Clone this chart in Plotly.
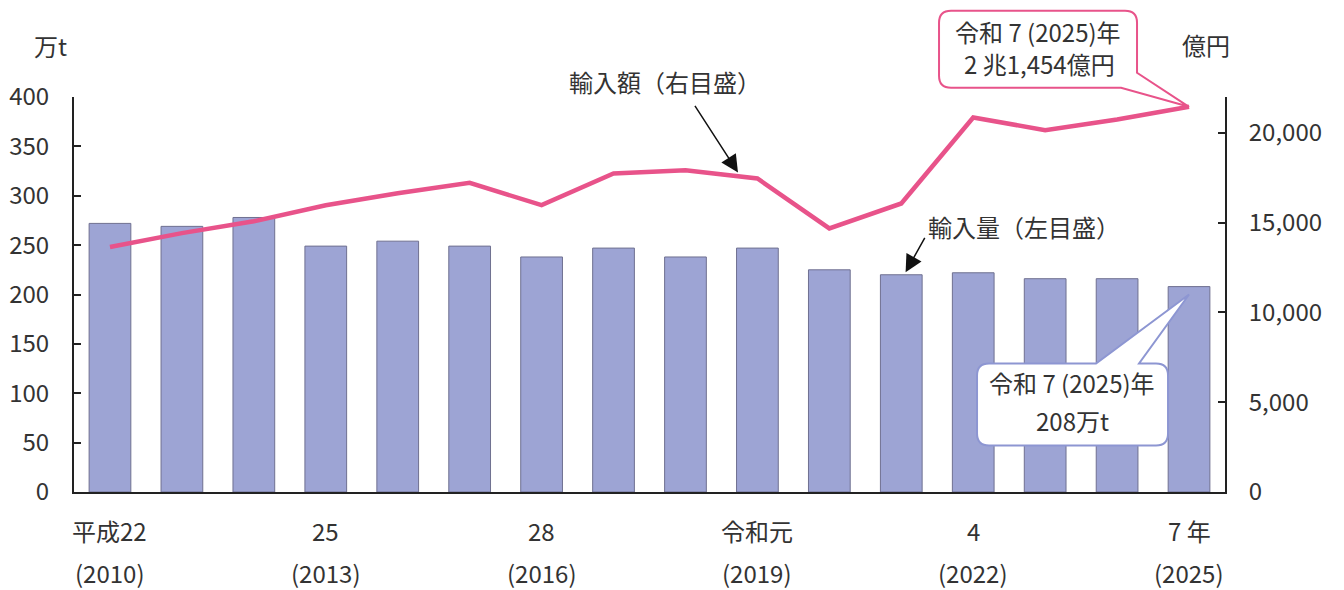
import plotly.graph_objects as go

# ---- data ----
years = list(range(2010, 2026))
import_volume = [272, 269, 278, 249, 254, 249, 238, 247, 238, 247, 225, 220, 222, 216, 216, 208]  # 万t
import_value = [13650, 14420, 15080, 15970, 16640, 17220, 15975, 17740, 17920, 17460,
                14680, 16070, 20860, 20150, 20750, 21454]  # 億円
tick_years = [2010, 2013, 2016, 2019, 2022, 2025]
tick_era = ["平成22", "25", "28", "令和元", "4", "7 年"]
tick_west = ["(2010)", "(2013)", "(2016)", "(2019)", "(2022)", "(2025)"]

FONT = "Noto Sans CJK JP"
TXT = "#333333"
BAR = "#9DA4D4"
PINK = "#E8538A"
BLUE_EDGE = "#8D96D2"

# the page body has an 8px margin, so the figure is 8px smaller than the window
OFF = 8
W, H = 1344 - OFF, 590 - OFF
PL, PR, PT, PB = 74, 1225, 97, 492          # plot area edges in window pixels
ML, MR, MT, MB = PL - OFF, 1344 - PR, PT - OFF, 590 - PB
PW, PH = PR - PL, PB - PT
Y2MAX = 22000

def paper(xp, yp):
    """window pixel position -> paper coords (relative to plot area)"""
    return (xp - PL) / PW, (PB - yp) / PH

fig = go.Figure()
fig.add_trace(go.Bar(x=years, y=import_volume, width=0.58,
                     marker=dict(color=BAR, line=dict(color="#6F7090", width=1)),
                     yaxis="y", showlegend=False))
fig.add_trace(go.Scatter(x=years, y=import_value, mode="lines",
                         line=dict(color=PINK, width=4.5), yaxis="y2", showlegend=False))

TF = dict(size=24, color=TXT, family=FONT)
fig.update_layout(
    width=W, height=H,
    margin=dict(l=ML, r=MR, t=MT, b=MB, autoexpand=False),
    paper_bgcolor="white", plot_bgcolor="white",
    font=dict(family=FONT, color=TXT, size=24),
    xaxis=dict(range=[2009.5, 2025.5], showticklabels=False, ticks="",
               showline=True, linecolor="#222", linewidth=2, showgrid=False, zeroline=False),
    yaxis=dict(range=[0, 400], dtick=50, ticks="inside", ticklen=7, tickcolor="#222",
               tickwidth=2, showline=True, linecolor="#222", linewidth=2,
               showgrid=False, zeroline=False, ticklabelstandoff=18, tickfont=TF),
    yaxis2=dict(range=[0, Y2MAX], tickvals=[0, 5000, 10000, 15000, 20000],
                ticktext=["0", "5,000", "10,000", "15,000", "20,000"],
                overlaying="y", side="right", ticks="inside", ticklen=7, tickcolor="#222",
                tickwidth=2, showline=True, linecolor="#222", linewidth=2,
                showgrid=False, zeroline=False, ticklabelstandoff=17, tickfont=TF),
)

F = dict(size=24, color=TXT, family=FONT)
ann = []
# x-axis two-line labels
y1p = paper(0, 530)[1]
y2p = paper(0, 572)[1]
for yr, e, w in zip(tick_years, tick_era, tick_west):
    ann.append(dict(x=yr, y=y1p, xref="x", yref="paper", text=e, showarrow=False,
                    xanchor="center", yanchor="middle", font=F))
    ann.append(dict(x=yr, y=y2p, xref="x", yref="paper", text=w, showarrow=False,
                    xanchor="center", yanchor="middle", font=F))
# axis unit titles
xx, yy = paper(50, 46)
ann.append(dict(x=xx, y=yy, xref="paper", yref="paper", text="万t", showarrow=False,
                xanchor="center", yanchor="middle", font=F))
xx, yy = paper(1206, 45)
ann.append(dict(x=xx, y=yy, xref="paper", yref="paper", text="億円", showarrow=False,
                xanchor="center", yanchor="middle", font=F))

# series labels with arrows
xx, yy = paper(665, 81)
ann.append(dict(x=xx, y=yy, xref="paper", yref="paper", text="輸入額（右目盛）",
                showarrow=False, xanchor="center", yanchor="middle", font=F))
ann.append(dict(x=2018.73, y=17800, xref="x", yref="y2", text="", showarrow=True,
                ax=-44, ay=-68, arrowhead=2, arrowsize=2.3, arrowwidth=1.5,
                arrowcolor="#111"))
xx, yy = paper(1024, 226)
ann.append(dict(x=xx, y=yy, xref="paper", yref="paper", text="輸入量（左目盛）",
                showarrow=False, xanchor="center", yanchor="middle", font=F))
ann.append(dict(x=2021.06, y=222.5, xref="x", yref="y", text="", showarrow=True,
                ax=20, ay=-36, arrowhead=2, arrowsize=2.3, arrowwidth=1.5,
                arrowcolor="#111"))

# callout texts (positioned relative to the callout tips)
last_year = years[-1]
vol_tip = 200
ann += [
    dict(x=last_year, y=import_value[-1], xref="x", yref="y2", text="令和 7 (2025)年",
         showarrow=False, xshift=-151, yshift=75, font=F),
    dict(x=last_year, y=import_value[-1], xref="x", yref="y2", text="2 兆1,454億円",
         showarrow=False, xshift=-150, yshift=43, font=F),
    dict(x=last_year, y=vol_tip, xref="x", yref="y", text="令和 7 (2025)年",
         showarrow=False, xshift=-117, yshift=-88, font=F),
    dict(x=last_year, y=vol_tip, xref="x", yref="y", text="208万t",
         showarrow=False, xshift=-117, yshift=-126, font=F),
]
fig.update_layout(annotations=ann)

# callout balloons (pixel paths anchored at data points)
def p(x, y):
    return f"{x},{y}"

r = 12
# pink: box x -250..-52, y 19..96 (up), tail from right edge to tip to bottom edge
x0, x1, y0, y1 = -250, -52, 19, 96
pink_path = (f"M {p(x0+r,y1)} L {p(x1-r,y1)} Q {p(x1,y1)} {p(x1,y1-r)} L {p(x1,34)} "
             f"L 0,0 L {p(-68,y0)} L {p(x0+r,y0)} Q {p(x0,y0)} {p(x0,y0+r)} "
             f"L {p(x0,y1-r)} Q {p(x0,y1)} {p(x0+r,y1)} Z")
# blue: box x -212..-21, y -151..-69, tail on top edge
x0, x1, y0, y1 = -212, -21, -151, -69
blue_path = (f"M {p(x0+r,y1)} L {p(-93,y1)} L 0,0 L {p(-50,y1)} L {p(x1-r,y1)} "
             f"Q {p(x1,y1)} {p(x1,y1-r)} L {p(x1,y0+r)} Q {p(x1,y0)} {p(x1-r,y0)} "
             f"L {p(x0+r,y0)} Q {p(x0,y0)} {p(x0,y0+r)} L {p(x0,y1-r)} Q {p(x0,y1)} {p(x0+r,y1)} Z")

# pink balloon extends above the plot area, so anchor it on paper y (y2 maps 0..22000 onto 0..1)
fig.add_shape(type="path", path=pink_path, xref="x", yref="paper",
              xsizemode="pixel", ysizemode="pixel", xanchor=last_year,
              yanchor=import_value[-1] / Y2MAX,
              fillcolor="white", line=dict(color=PINK, width=2), layer="above")
fig.add_shape(type="path", path=blue_path, xref="x", yref="y",
              xsizemode="pixel", ysizemode="pixel", xanchor=last_year, yanchor=vol_tip,
              fillcolor="white", line=dict(color=BLUE_EDGE, width=2), layer="above")

fig.write_html("out.html")
